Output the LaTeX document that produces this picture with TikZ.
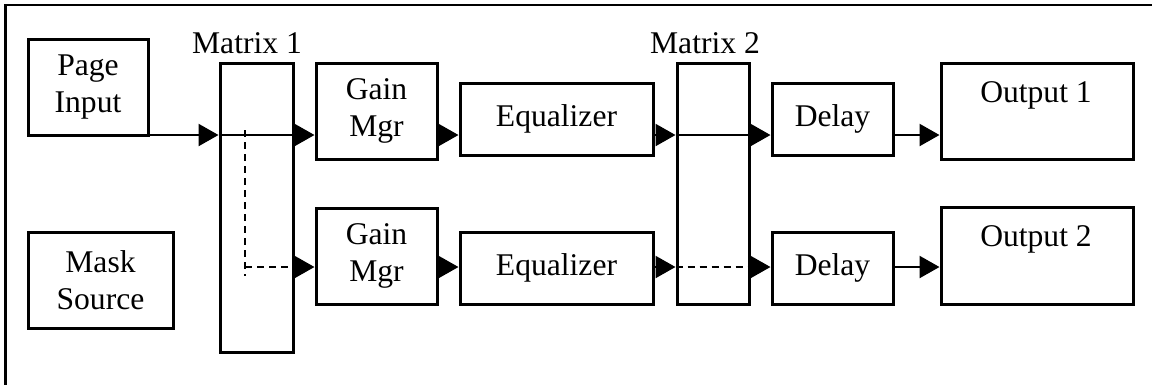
\documentclass[tikz,border=0pt]{standalone}
\usepackage{fontspec}
\setmainfont{Liberation Serif}
\usetikzlibrary{arrows.meta}
\begin{document}
\begin{tikzpicture}[x=0.5pt,y=-0.5pt,
  blk/.style={draw,line width=1.5pt,inner sep=0pt,align=center,font=\fontsize{15.8}{18.5}\selectfont},
  lbl/.style={inner sep=0pt,font=\fontsize{15.8}{18.5}\selectfont},
  flow/.style={line width=1.2pt,-{Triangle[length=10pt,width=11pt]}},
  link/.style={line width=1.2pt},
  dsh/.style={dash pattern=on 3.6pt off 2.4pt}]
\useasboundingbox (0,0) rectangle (1152,387);
% frame: top and left edges only
\draw[line width=1.2pt] (1152,5) -- (5.5,5) -- (5.5,385);
% macro for a box given by its corners
\newcommand\bx[6]{\node[blk,minimum width={(#4-#2)*0.5pt},minimum height={(#5-#3)*0.5pt}] (#1) at ({(#2+#4)/2},{(#3+#5)/2}) {#6};}
\bx{page}{28}{39}{148}{135}{Page\\Input}
\bx{mask}{28}{232}{173}{328}{Mask\\Source}
\bx{mxa}{220}{63}{293}{352}{}
\bx{gaina}{316}{63}{437}{159}{Gain\\Mgr}
\bx{gainb}{316}{208}{437}{304}{Gain\\Mgr}
\bx{eqa}{460}{83}{653}{155}{Equalizer}
\bx{eqb}{460}{232}{653}{304}{Equalizer}
\bx{mxb}{677}{63}{749}{304}{}
\bx{dla}{772}{83}{893}{155}{Delay}
\bx{dlb}{772}{232}{893}{304}{Delay}
\bx{outa}{941}{63}{1133}{159}{}
\bx{outb}{941}{207}{1133}{304}{}
\node[lbl] (mxalbl) at (247,43) {Matrix 1};
\node[lbl] (mxblbl) at (705,43) {Matrix 2};
\node[lbl] (outalbl) at (1036,95) {Output 1};
\node[lbl] (outblbl) at (1036,239) {Output 2};
% upper path
\coordinate (pa) at (148,135);
\draw[flow] (pa) -- (pa -| mxa.west);
\draw[flow] (pa -| mxa.west) -- (pa -| gaina.west);
\draw[flow] (pa -| gaina.east) -- (pa -| eqa.west);
\draw[flow] (pa -| eqa.east) -- (pa -| mxb.west);
\draw[flow] (pa -| mxb.west) -- (pa -| dla.west);
\draw[flow] (pa -| dla.east) -- (pa -| outa.west);
% lower path
\coordinate (pb) at (245,267);
\coordinate (vt) at (245,130);
\coordinate (vb) at (245,276);
\draw[link,dsh] (vt) -- (vb);
\draw[flow,dsh] (pb) -- (pb -| gainb.west);
\draw[flow] (pb -| gainb.east) -- (pb -| eqb.west);
\draw[flow] (pb -| eqb.east) -- (pb -| mxb.west);
\draw[flow,dsh] (pb -| mxb.west) -- (pb -| dlb.west);
\draw[flow] (pb -| dlb.east) -- (pb -| outb.west);
\end{tikzpicture}
\end{document}
